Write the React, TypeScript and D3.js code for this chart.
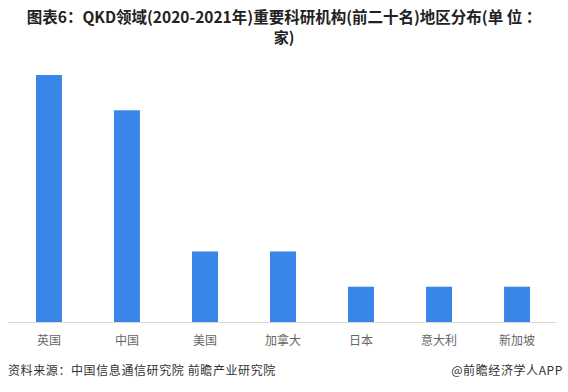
import React from "react";
import * as d3 from "d3";

const categories = ["英国", "中国", "美国", "加拿大", "日本", "意大利", "新加坡"];
const values = [7, 6, 2, 2, 1, 1, 1];

export default function App() {
  const W = 568, H = 392;
  const x = d3.scaleBand<string>().domain(categories).range([10, 556]).paddingInner(0.667).paddingOuter(0.333);
  const y = d3.scaleLinear().domain([0, 7]).range([322, 75]);
  const font = "'Microsoft YaHei','Noto Sans CJK SC',sans-serif";
  return (
    <svg width={W} height={H} style={{ position: "absolute", left: 0, top: 0, background: "#fff" }}>
      <text x={W / 2} y={23} textAnchor="middle" fontSize={15.5} fontWeight="bold" fill="#222" fontFamily={font}>
        图表6：QKD领域(2020-2021年)重要科研机构(前二十名)地区分布(单 位 ：
      </text>
      <text x={W / 2} y={43} textAnchor="middle" fontSize={15} fontWeight="bold" fill="#222" fontFamily={font}>
        家)
      </text>
      {categories.map((c, i) => (
        <rect key={c} x={x(c)} y={y(values[i])} width={x.bandwidth()} height={y(0) - y(values[i])} fill="#3a86e8" />
      ))}
      <line x1={8} x2={556} y1={322.5} y2={322.5} stroke="#d8d8d8" />
      {categories.map((c) => (
        <text key={c} x={(x(c) as number) + x.bandwidth() / 2} y={345} textAnchor="middle" fontSize={12} fill="#666" fontFamily={font}>
          {c}
        </text>
      ))}
      <text x={8} y={375} fontSize={12} letterSpacing={0.6} fill="#333" fontFamily={font}>资料来源：中国信息通信研究院 前瞻产业研究院</text>
      <text x={563} y={375} textAnchor="end" fontSize={12} letterSpacing={0.6} fill="#333" fontFamily={font}>@前瞻经济学人APP</text>
    </svg>
  );
}
